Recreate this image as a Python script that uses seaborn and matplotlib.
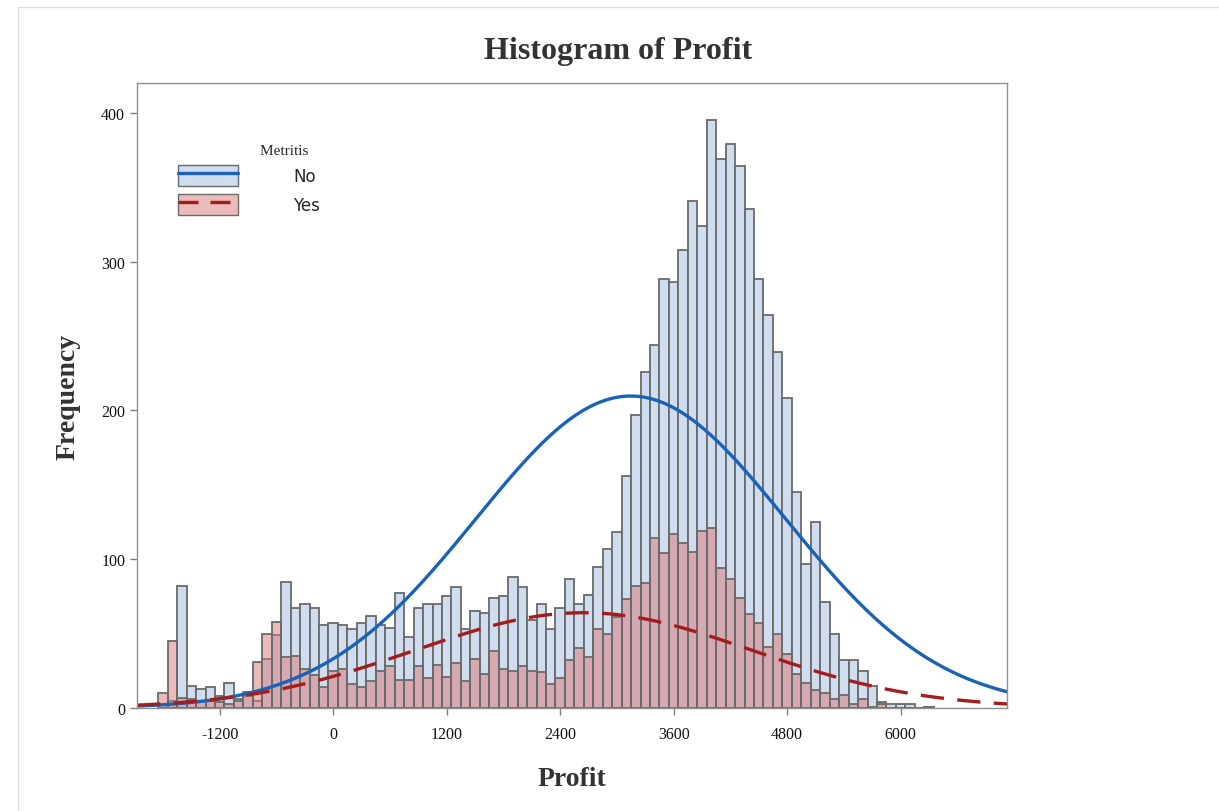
import numpy as np
import pandas as pd
import seaborn as sns
import matplotlib.pyplot as plt
from matplotlib.patches import Patch, Rectangle
from matplotlib.lines import Line2D

# bin centres of the Profit histogram (bin width 100)
bin_centers = list(range(-1800, 6400, 100))

no_counts = [2, 5, 82, 15, 13, 14, 8, 17, 6, 8,
             5, 33, 49, 85, 67, 70, 67, 56,
             57, 56, 53, 57, 62, 56, 54, 77, 48, 67,
             70, 70, 75, 81, 53, 65, 64, 74, 75, 88,
             81, 59, 70, 53, 67, 87, 70, 76, 95, 107,
             118, 156, 197, 226, 244, 288, 286, 308, 341, 324,
             395, 369, 379, 364, 335, 288, 264, 239, 208, 145,
             97, 125, 71, 50, 32, 32, 25, 15, 4, 3, 3, 3, 0, 1]

yes_counts = [10, 45, 7, 6, 5, 5, 4, 3, 5, 11,
              31, 50, 58, 34, 35, 26, 22, 14,
              25, 26, 16, 14, 18, 25, 28, 19, 19, 28,
              20, 29, 21, 30, 18, 33, 23, 38, 26, 25,
              28, 25, 24, 16, 20, 32, 40, 34, 53, 50,
              61, 73, 82, 84, 114, 104, 117, 111, 105, 119,
              121, 94, 87, 74, 63, 57, 41, 50, 36, 23,
              17, 12, 10, 6, 9, 3, 6, 1, 3, 0, 0, 0, 0, 1]

groups = ["No", "Yes"]

df = pd.DataFrame({"Profit": bin_centers * 2,
                   "count": no_counts + yes_counts,
                   "Metritis": ["No"] * len(bin_centers) + ["Yes"] * len(bin_centers)})

width = 100
edges = [c - width / 2 for c in bin_centers] + [bin_centers[-1] + width / 2]

blue_face = "#cfddef"
pink_face = (217 / 255, 119 / 255, 119 / 255, 0.5)
edge_col = "#6a6a6a"
blue_line = "#1a62b8"
red_line = "#a51c1c"

sns.set_style("white")
plt.rcParams["axes.unicode_minus"] = False
fig = plt.figure(figsize=(12.19, 8.12), dpi=100)
ax = fig.add_axes([137 / 1219, 1 - 709 / 812, 870 / 1219, 625 / 812])

sns.histplot(data=df[df.Metritis == "No"], x="Profit", weights="count", bins=edges,
             color=blue_face, edgecolor=edge_col, linewidth=1.3, alpha=1, ax=ax)
n_before = len(ax.patches)
sns.histplot(data=df[df.Metritis == "Yes"], x="Profit", weights="count", bins=edges,
             color=pink_face[:3], edgecolor=edge_col, linewidth=1.3, alpha=1, ax=ax)
for p in ax.patches[n_before:]:
    p.set_alpha(None)
    p.set_facecolor(pink_face)
    p.set_edgecolor(edge_col)

# fitted normal curves, scaled to counts
xs = np.linspace(-2075, 7125, 400)
for g, col, ls in [("No", blue_line, "-"), ("Yes", red_line, "--")]:
    sub = df[df.Metritis == g]
    n = sub["count"].sum()
    mu = (sub.Profit * sub["count"]).sum() / n
    sd = np.sqrt((sub["count"] * (sub.Profit - mu) ** 2).sum() / (n - 1))
    ys = n * width * np.exp(-0.5 * ((xs - mu) / sd) ** 2) / (sd * np.sqrt(2 * np.pi))
    sns.lineplot(x=xs, y=ys, color=col, linewidth=2.4, ax=ax)
    if ls == "--":
        ax.lines[-1].set_dashes((7, 4))

ax.set_xlim(-2075, 7125)
ax.set_ylim(0, 420)
ax.set_xticks([-1200, 0, 1200, 2400, 3600, 4800, 6000])
ax.set_yticks([0, 100, 200, 300, 400])
ax.tick_params(axis="both", direction="out", length=5, width=1, color="#808080",
               bottom=True, left=True, labelsize=11.5, labelcolor="#111111")
ax.tick_params(axis="x", pad=8)
for lab in ax.get_xticklabels() + ax.get_yticklabels():
    lab.set_family(["Liberation Serif", "DejaVu Serif"])
for s in ax.spines.values():
    s.set_color("#909090")
    s.set_linewidth(1)

ax.set_xlabel("Profit", fontsize=20, fontweight="bold", family="Liberation Serif",
              color="#333333", labelpad=17)
ax.set_ylabel("Frequency", fontsize=20, fontweight="bold", family="Liberation Serif",
              color="#333333", labelpad=15)
fig.text(618 / 1219, 1 - 51 / 812, "Histogram of Profit", fontsize=23, fontweight="bold",
         family="Liberation Serif", color="#333333", ha="center", va="center")

handles = [(Patch(facecolor=blue_face, edgecolor=edge_col, linewidth=1),
            Line2D([], [], color=blue_line, linewidth=2.4)),
           (Patch(facecolor=pink_face, edgecolor=edge_col, linewidth=1),
            Line2D([], [], color=red_line, linewidth=2.4, dashes=(6, 3.6)))]
leg = ax.legend(handles, groups, loc="upper left", bbox_to_anchor=(0.047, 0.902),
                frameon=False, title="Metritis   ", handlelength=3.6, handleheight=1.6,
                handletextpad=3.3, labelspacing=0.45, borderpad=0, borderaxespad=0,
                alignment="right", prop={"family": "DejaVu Sans", "size": 12})
leg.get_title().set_family("Liberation Serif")
leg.get_title().set_fontsize(11)

fig.add_artist(Rectangle((18 / 1219, -0.01), 1.0, 1.0 - 8 / 812 + 0.01,
                         transform=fig.transFigure, fill=False,
                         edgecolor="#dcdcdc", linewidth=1))

fig.savefig("out.png", dpi=100)
